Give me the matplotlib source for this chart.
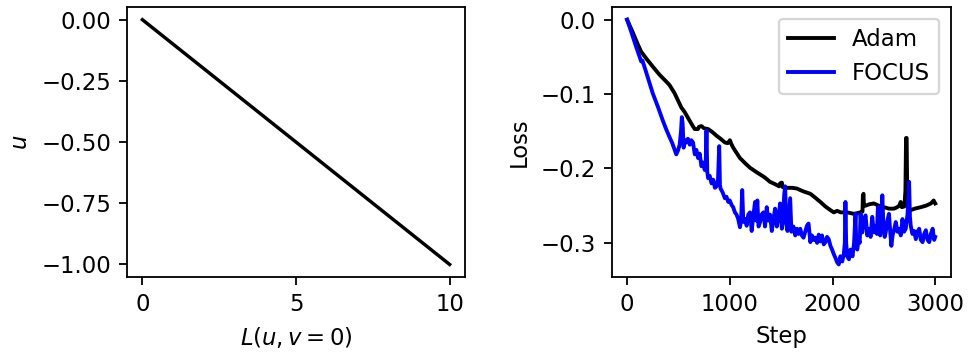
import numpy as np
import matplotlib
matplotlib.use("Agg")
import matplotlib.pyplot as plt

# left panel: u against L(u, v=0)
left_L = [0, 10]
left_u = [0.0, -1.0]

# right panel: loss curves
adam_step = [0, 55, 104, 137, 186, 250, 316, 380, 414, 463, 528, 560, 610, 640, 659,
             690, 700, 724, 750, 789, 830, 871, 910, 952, 980, 1001, 1015, 1033, 1066,
             1099, 1150, 1197, 1250, 1295, 1340, 1392, 1440, 1480, 1490, 1507, 1515,
             1555, 1610, 1654, 1686, 1720, 1784, 1830, 1882, 1930, 1980, 2012, 2045,
             2080, 2143, 2208, 2273, 2292, 2296, 2302, 2306, 2322, 2360, 2403, 2450,
             2501, 2550, 2599, 2630, 2650, 2664, 2675, 2700, 2710, 2716, 2722, 2728,
             2740, 2762, 2800, 2860, 2910, 2958, 2985, 3000]
adam_loss = [0.000, -0.017, -0.033, -0.043, -0.052, -0.063, -0.074, -0.083, -0.088,
             -0.099, -0.118, -0.124, -0.136, -0.143, -0.147, -0.147, -0.144, -0.143,
             -0.146, -0.147, -0.151, -0.156, -0.160, -0.165, -0.166, -0.162, -0.167,
             -0.172, -0.179, -0.186, -0.193, -0.199, -0.204, -0.208, -0.212, -0.218,
             -0.221, -0.224, -0.220, -0.219, -0.225, -0.226, -0.226, -0.227, -0.229,
             -0.231, -0.234, -0.239, -0.245, -0.251, -0.256, -0.259, -0.257, -0.259,
             -0.259, -0.261, -0.259, -0.258, -0.236, -0.234, -0.250, -0.250, -0.248,
             -0.247, -0.250, -0.252, -0.254, -0.254, -0.252, -0.250, -0.245, -0.252,
             -0.251, -0.230, -0.159, -0.159, -0.240, -0.255, -0.256, -0.254, -0.252,
             -0.250, -0.247, -0.243, -0.247]

focus_step = [0, 40, 80, 120, 137, 150, 180, 250, 300, 349, 380, 414, 440, 479, 495,
              512, 525, 533, 541, 550, 565, 577, 592, 610, 625, 642, 659, 675, 691,
              707, 724, 740, 756, 766, 773, 781, 789, 805, 822, 838, 855, 871, 885,
              897, 904, 910, 930, 952, 968, 985, 1000, 1017, 1033, 1050, 1066, 1082,
              1099, 1110, 1121, 1130, 1138, 1150, 1164, 1180, 1197, 1213, 1228, 1246,
              1258, 1268, 1280, 1295, 1310, 1327, 1343, 1360, 1375, 1392, 1409, 1425,
              1441, 1458, 1474, 1490, 1507, 1520, 1530, 1539, 1550, 1562, 1575, 1588,
              1600, 1620, 1637, 1654, 1670, 1686, 1702, 1718, 1735, 1751, 1767, 1784,
              1800, 1817, 1833, 1850, 1866, 1882, 1898, 1915, 1931, 1947, 1963, 1980,
              1996, 2012, 2028, 2045, 2061, 2070, 2077, 2095, 2110, 2120, 2126, 2133,
              2143, 2160, 2175, 2195, 2210, 2224, 2232, 2241, 2255, 2265, 2273, 2280,
              2290, 2306, 2322, 2338, 2355, 2371, 2387, 2403, 2420, 2432, 2442, 2452,
              2465, 2476, 2485, 2495, 2508, 2518, 2534, 2550, 2562, 2573, 2585, 2600,
              2616, 2632, 2648, 2665, 2681, 2697, 2713, 2730, 2740, 2746, 2754, 2762,
              2778, 2795, 2811, 2828, 2844, 2860, 2877, 2893, 2909, 2925, 2942, 2958,
              2975, 2990, 3000]
focus_loss = [0.000, -0.016, -0.033, -0.049, -0.056, -0.055, -0.068, -0.099, -0.117,
              -0.136, -0.147, -0.158, -0.166, -0.181, -0.176, -0.168, -0.150, -0.131,
              -0.140, -0.172, -0.162, -0.165, -0.160, -0.168, -0.162, -0.165, -0.181,
              -0.175, -0.186, -0.180, -0.197, -0.192, -0.202, -0.190, -0.149, -0.205,
              -0.213, -0.210, -0.220, -0.215, -0.226, -0.224, -0.215, -0.170, -0.222,
              -0.227, -0.232, -0.240, -0.238, -0.245, -0.243, -0.249, -0.252, -0.259,
              -0.262, -0.268, -0.279, -0.270, -0.229, -0.265, -0.272, -0.268, -0.277,
              -0.262, -0.259, -0.284, -0.265, -0.245, -0.270, -0.243, -0.278, -0.272,
              -0.262, -0.259, -0.278, -0.252, -0.270, -0.262, -0.284, -0.268, -0.254,
              -0.278, -0.265, -0.247, -0.281, -0.262, -0.235, -0.224, -0.275, -0.284,
              -0.262, -0.240, -0.285, -0.278, -0.290, -0.281, -0.288, -0.281, -0.290,
              -0.293, -0.285, -0.277, -0.274, -0.299, -0.290, -0.296, -0.293, -0.300,
              -0.289, -0.298, -0.290, -0.302, -0.299, -0.292, -0.295, -0.304, -0.309,
              -0.315, -0.320, -0.326, -0.329, -0.322, -0.318, -0.325, -0.315, -0.300,
              -0.245, -0.300, -0.318, -0.322, -0.309, -0.318, -0.300, -0.261, -0.305,
              -0.309, -0.295, -0.300, -0.261, -0.275, -0.286, -0.268, -0.263, -0.290,
              -0.281, -0.292, -0.265, -0.286, -0.278, -0.288, -0.252, -0.282, -0.290,
              -0.270, -0.236, -0.275, -0.292, -0.286, -0.270, -0.261, -0.285, -0.304,
              -0.290, -0.282, -0.272, -0.285, -0.281, -0.290, -0.268, -0.285, -0.281,
              -0.262, -0.240, -0.218, -0.265, -0.277, -0.288, -0.284, -0.295, -0.285,
              -0.281, -0.296, -0.299, -0.288, -0.283, -0.296, -0.299, -0.288, -0.281,
              -0.296, -0.292]

# the reference looks like a default-styled figure rendered at high dpi
DPI = 164
fig = plt.figure(figsize=(972 / DPI, 356 / DPI), dpi=DPI)
ax1 = fig.add_axes([0.1307, 0.2228, 0.3477, 0.7562])
ax2 = fig.add_axes([0.6293, 0.2228, 0.3487, 0.7562])

ax1.plot(left_L, left_u, color='black', lw=1.5)
ax1.set_xlabel('$L(u, v=0)$')
ax1.set_ylabel('$u$')
ax1.set_xticks([0, 5, 10])
ax1.set_yticks([0.0, -0.25, -0.5, -0.75, -1.0])

ax2.plot(adam_step, adam_loss, color='black', lw=1.7, label='Adam')
ax2.plot(focus_step, focus_loss, color='blue', lw=1.7, label='FOCUS')
ax2.set_xlabel('Step')
ax2.set_ylabel('Loss')
ax2.set_xticks([0, 1000, 2000, 3000])
ax2.set_yticks([0.0, -0.1, -0.2, -0.3])
ax2.legend(loc='upper right')

fig.savefig('out.png', dpi=DPI)
